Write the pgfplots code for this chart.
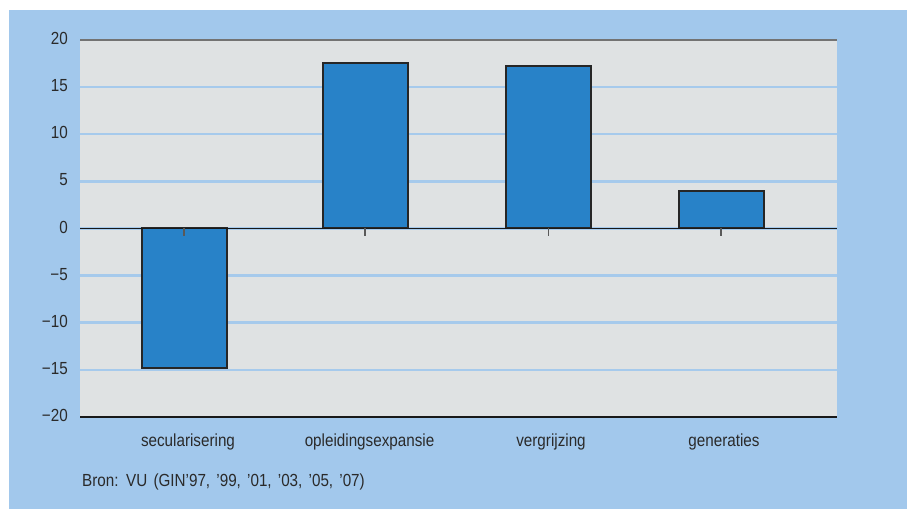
\documentclass[border=0pt]{standalone}
\usepackage{fontspec}
\setmainfont[FakeStretch=0.87]{Liberation Sans}
\usepackage{pgfplots}
\pgfplotsset{compat=1.18}
\definecolor{bgblue}{HTML}{A2C8EC}
\definecolor{plotgray}{HTML}{DFE2E3}
\definecolor{barblue}{HTML}{2882C8}
\definecolor{gridblue}{HTML}{A6CAEC}
\definecolor{txt}{HTML}{2A2A2A}
\newcommand{\chartfont}{\fontsize{17.5bp}{20bp}\selectfont}
\begin{document}
\begin{tikzpicture}[x=1bp,y=1bp]
\useasboundingbox (0,0) rectangle (907,509);
\fill[bgblue] (9,0) rectangle (907,499);
\begin{axis}[
  at={(80bp,92bp)}, anchor=south west,
  width=757bp, height=377bp, scale only axis,
  xmin=80, xmax=837, ymin=-20, ymax=20,
  axis line style={draw=none},
  axis background/.style={fill=plotgray},
  ytick={-20,-15,...,20},
  yticklabels={−20,−15,−10,−5,0,5,10,15,20},
  ymajorgrids, grid style={gridblue, line width=2.5bp},
  xtick={188,369.5,551,724},
  xticklabels={secularisering,opleidingsexpansie,vergrijzing,generaties},
  major tick length=0pt,
  tick label style={font=\chartfont, text=txt},
  yticklabel style={anchor=east, inner sep=0pt, xshift=-12bp, yshift=1.5bp},
  xticklabel style={anchor=base, inner sep=0pt, yshift=-30bp},
  ybar, bar width=85,
  clip=false,
]
\addplot[fill=barblue, draw=black!85, line width=2bp]
  coordinates {(184,-14.8) (365,17.6) (548.3,17.2) (721,4.0)};
\draw[black!55, line width=1.2bp] (axis cs:80,20) -- (axis cs:837,20);
\draw[black!90, line width=1.5bp] (axis cs:80,-20) -- (axis cs:837,-20);
\draw[black!90, line width=1.2bp] (axis cs:80,0) -- (axis cs:837,0);
\pgfplotsinvokeforeach{184,365,548.3,721}{
  \draw[black!65, line width=1.5bp] (axis cs:#1,0) -- ++(0pt,-8bp);
}
\end{axis}
\node[anchor=base west, inner sep=0pt, font=\chartfont, text=txt] at (82,22)
  {\spaceskip=6.2bp Bron: VU (GIN’97, ’99, ’01, ’03, ’05, ’07)};
\end{tikzpicture}
\end{document}
